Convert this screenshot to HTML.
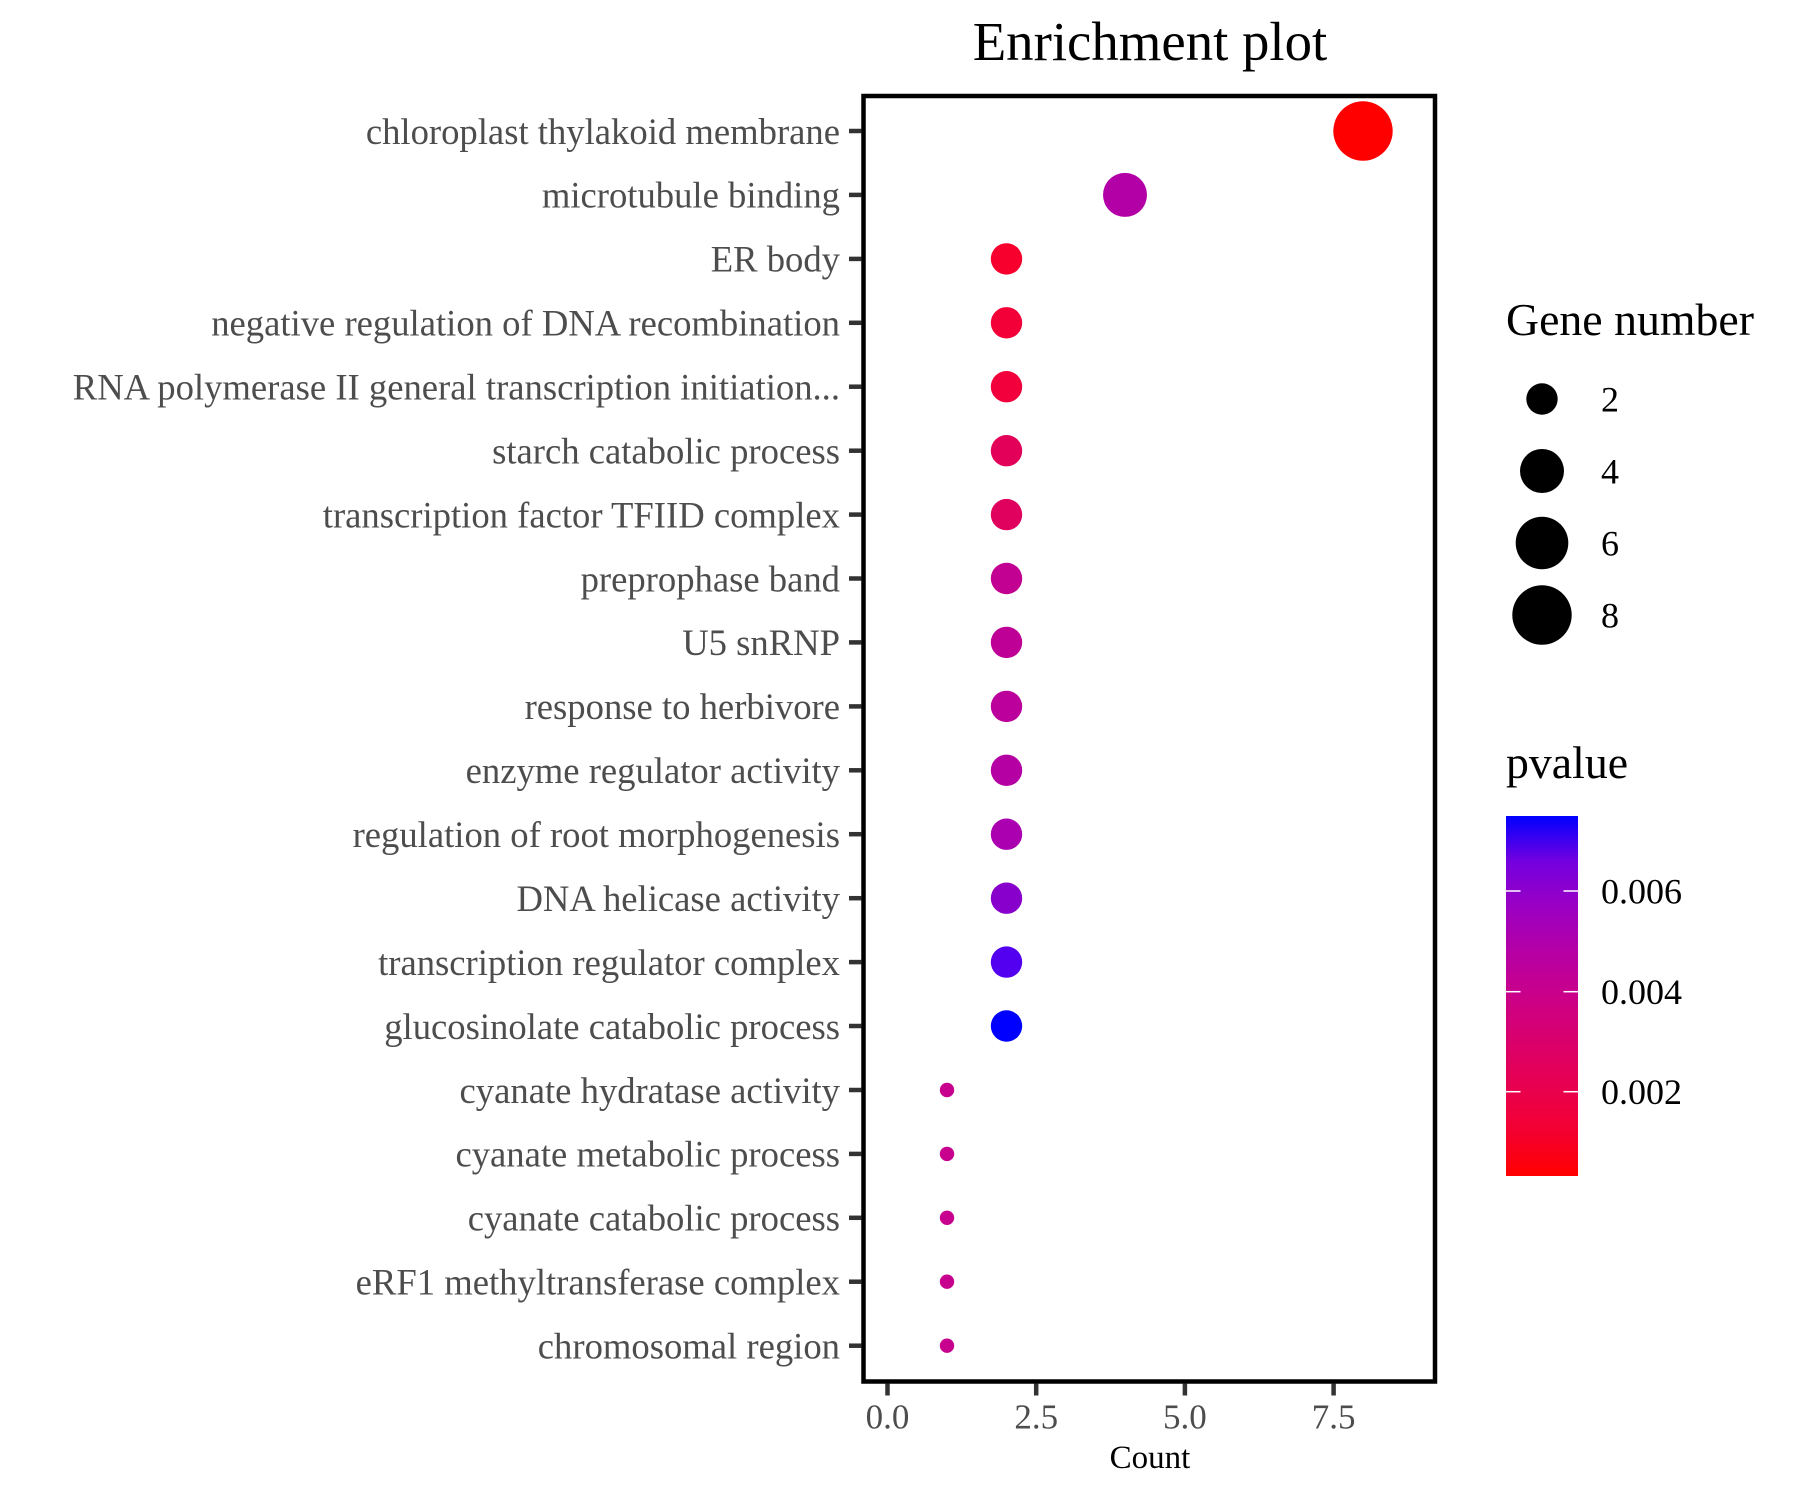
<!DOCTYPE html>
<html>
<head>
<meta charset="utf-8">
<style>
  html, body { margin: 0; padding: 0; background: #ffffff; }
  svg { display: block; }
  text { font-family: "Liberation Serif", "Times New Roman", serif; }
</style>
</head>
<body>
<svg width="1800" height="1500" viewBox="0 0 1800 1500" xmlns="http://www.w3.org/2000/svg">
  <defs>
    <linearGradient id="pgrad" x1="0" y1="1" x2="0" y2="0">
      <stop offset="0" stop-color="#FF0000"/>
      <stop offset="0.125" stop-color="#F40031"/>
      <stop offset="0.25" stop-color="#E80050"/>
      <stop offset="0.375" stop-color="#DA006C"/>
      <stop offset="0.5" stop-color="#CA0089"/>
      <stop offset="0.625" stop-color="#B500A5"/>
      <stop offset="0.75" stop-color="#9A00C3"/>
      <stop offset="0.875" stop-color="#7300E0"/>
      <stop offset="1" stop-color="#0000FF"/>
    </linearGradient>
  </defs>
  <rect x="0" y="0" width="1800" height="1500" fill="#ffffff"/>

  <!-- Title -->
  <text x="1150" y="60" font-size="54.8" text-anchor="middle" fill="#000">Enrichment plot</text>

  <!-- Panel -->
  <rect x="863.5" y="96" width="571.5" height="1285.5" fill="#ffffff" stroke="#000" stroke-width="4.5"/>

  <!-- Y ticks -->
  <g stroke="#333333" stroke-width="4.5">
    <line x1="849" y1="131.0" x2="861.5" y2="131.0"/>
    <line x1="849" y1="194.9" x2="861.5" y2="194.9"/>
    <line x1="849" y1="258.9" x2="861.5" y2="258.9"/>
    <line x1="849" y1="322.8" x2="861.5" y2="322.8"/>
    <line x1="849" y1="386.7" x2="861.5" y2="386.7"/>
    <line x1="849" y1="450.7" x2="861.5" y2="450.7"/>
    <line x1="849" y1="514.6" x2="861.5" y2="514.6"/>
    <line x1="849" y1="578.5" x2="861.5" y2="578.5"/>
    <line x1="849" y1="642.4" x2="861.5" y2="642.4"/>
    <line x1="849" y1="706.4" x2="861.5" y2="706.4"/>
    <line x1="849" y1="770.3" x2="861.5" y2="770.3"/>
    <line x1="849" y1="834.2" x2="861.5" y2="834.2"/>
    <line x1="849" y1="898.2" x2="861.5" y2="898.2"/>
    <line x1="849" y1="962.1" x2="861.5" y2="962.1"/>
    <line x1="849" y1="1026.0" x2="861.5" y2="1026.0"/>
    <line x1="849" y1="1090.0" x2="861.5" y2="1090.0"/>
    <line x1="849" y1="1153.9" x2="861.5" y2="1153.9"/>
    <line x1="849" y1="1217.8" x2="861.5" y2="1217.8"/>
    <line x1="849" y1="1281.7" x2="861.5" y2="1281.7"/>
    <line x1="849" y1="1345.7" x2="861.5" y2="1345.7"/>
  </g>

  <!-- Y labels -->
  <g font-size="36.65" fill="#4D4D4D" text-anchor="end">
    <text x="840" y="143.8">chloroplast thylakoid membrane</text>
    <text x="840" y="207.7">microtubule binding</text>
    <text x="840" y="271.7">ER body</text>
    <text x="840" y="335.6">negative regulation of DNA recombination</text>
    <text x="840" y="399.5">RNA polymerase II general transcription initiation...</text>
    <text x="840" y="463.5">starch catabolic process</text>
    <text x="840" y="527.4">transcription factor TFIID complex</text>
    <text x="840" y="591.3">preprophase band</text>
    <text x="840" y="655.2">U5 snRNP</text>
    <text x="840" y="719.2">response to herbivore</text>
    <text x="840" y="783.1">enzyme regulator activity</text>
    <text x="840" y="847.0">regulation of root morphogenesis</text>
    <text x="840" y="911.0">DNA helicase activity</text>
    <text x="840" y="974.9">transcription regulator complex</text>
    <text x="840" y="1038.8">glucosinolate catabolic process</text>
    <text x="840" y="1102.8">cyanate hydratase activity</text>
    <text x="840" y="1166.7">cyanate metabolic process</text>
    <text x="840" y="1230.6">cyanate catabolic process</text>
    <text x="840" y="1294.5">eRF1 methyltransferase complex</text>
    <text x="840" y="1358.5">chromosomal region</text>
  </g>

  <!-- Points -->
  <g>
    <circle cx="1363" cy="131.0" r="29.7" fill="#FF0000"/>
    <circle cx="1125" cy="194.9" r="22" fill="#B300A6"/>
    <circle cx="1006.5" cy="258.9" r="15.7" fill="#F7002E"/>
    <circle cx="1006.5" cy="322.8" r="15.7" fill="#F30038"/>
    <circle cx="1006.5" cy="386.7" r="15.7" fill="#F1003C"/>
    <circle cx="1006.5" cy="450.7" r="15.7" fill="#E30058"/>
    <circle cx="1006.5" cy="514.6" r="15.7" fill="#E0005E"/>
    <circle cx="1006.5" cy="578.5" r="15.7" fill="#C20092"/>
    <circle cx="1006.5" cy="642.4" r="15.7" fill="#BF0096"/>
    <circle cx="1006.5" cy="706.4" r="15.7" fill="#BC009B"/>
    <circle cx="1006.5" cy="770.3" r="15.7" fill="#B500A4"/>
    <circle cx="1006.5" cy="834.2" r="15.7" fill="#AA00B0"/>
    <circle cx="1006.5" cy="898.2" r="15.7" fill="#8800CC"/>
    <circle cx="1006.5" cy="962.1" r="15.7" fill="#5200EF"/>
    <circle cx="1006.5" cy="1026.0" r="15.7" fill="#0000FF"/>
    <circle cx="947" cy="1090.0" r="7.2" fill="#C8008E"/>
    <circle cx="947" cy="1153.9" r="7.2" fill="#C8008E"/>
    <circle cx="947" cy="1217.8" r="7.2" fill="#C8008E"/>
    <circle cx="947" cy="1281.7" r="7.2" fill="#C8008E"/>
    <circle cx="947" cy="1345.7" r="7.2" fill="#C8008E"/>
  </g>

  <!-- X ticks -->
  <g stroke="#333333" stroke-width="4.5">
    <line x1="887.5" y1="1383.5" x2="887.5" y2="1395.5"/>
    <line x1="1036.2" y1="1383.5" x2="1036.2" y2="1395.5"/>
    <line x1="1184.9" y1="1383.5" x2="1184.9" y2="1395.5"/>
    <line x1="1333.6" y1="1383.5" x2="1333.6" y2="1395.5"/>
  </g>
  <g font-size="35" fill="#4D4D4D" text-anchor="middle">
    <text x="887.5" y="1428.5">0.0</text>
    <text x="1036.2" y="1428.5">2.5</text>
    <text x="1184.9" y="1428.5">5.0</text>
    <text x="1333.6" y="1428.5">7.5</text>
  </g>
  <text x="1150" y="1468" font-size="33" fill="#000" text-anchor="middle">Count</text>

  <!-- Size legend -->
  <text x="1506" y="335" font-size="45.8" fill="#000">Gene number</text>
  <g fill="#000">
    <circle cx="1542" cy="399" r="15.7"/>
    <circle cx="1542" cy="471" r="22"/>
    <circle cx="1542" cy="543" r="26.3"/>
    <circle cx="1542" cy="615" r="29.7"/>
  </g>
  <g font-size="36" fill="#000">
    <text x="1601" y="411.5">2</text>
    <text x="1601" y="483.5">4</text>
    <text x="1601" y="555.5">6</text>
    <text x="1601" y="627.5">8</text>
  </g>

  <!-- Color legend -->
  <text x="1506" y="778" font-size="45.8" fill="#000">pvalue</text>
  <rect x="1506" y="816" width="72" height="360" fill="url(#pgrad)"/>
  <g stroke="#ffffff" stroke-width="1.5">
    <line x1="1506" y1="891" x2="1520.5" y2="891"/>
    <line x1="1563.5" y1="891" x2="1578" y2="891"/>
    <line x1="1506" y1="991.7" x2="1520.5" y2="991.7"/>
    <line x1="1563.5" y1="991.7" x2="1578" y2="991.7"/>
    <line x1="1506" y1="1091.7" x2="1520.5" y2="1091.7"/>
    <line x1="1563.5" y1="1091.7" x2="1578" y2="1091.7"/>
  </g>
  <g font-size="36" fill="#000">
    <text x="1601" y="903.5">0.006</text>
    <text x="1601" y="1004">0.004</text>
    <text x="1601" y="1104">0.002</text>
  </g>
</svg>
</body>
</html>
